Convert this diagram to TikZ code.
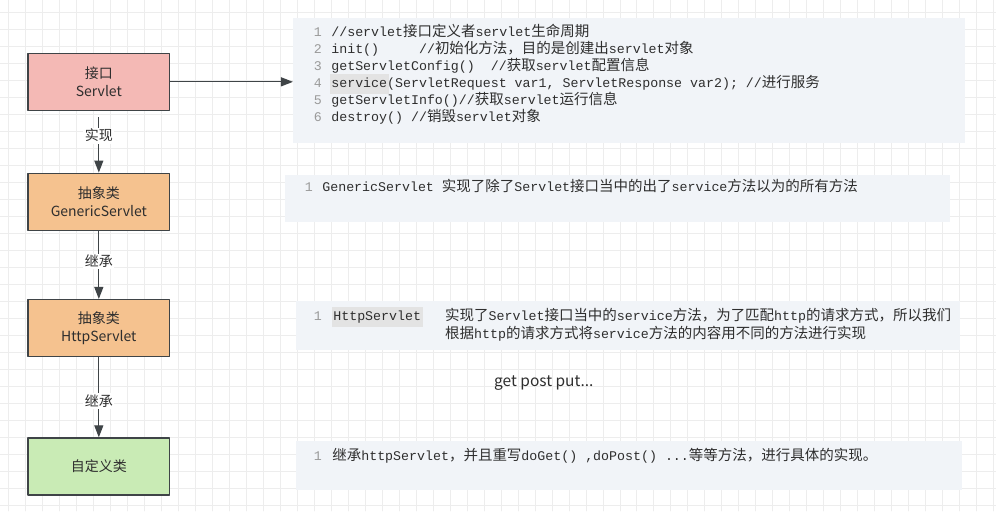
\documentclass[tikz,border=0pt]{standalone}
\usepackage{fontspec}
\setmainfont{Noto Sans CJK SC}
\setmonofont{Liberation Mono}
\newfontfamily\cjk{Noto Sans CJK SC}
\usetikzlibrary{arrows.meta,positioning}
\definecolor{srvPink}{HTML}{F4B9B5}
\definecolor{srvOrange}{HTML}{F5C28F}
\definecolor{srvGreen}{HTML}{C9EBB5}
\definecolor{srvLine}{HTML}{3F4447}
\definecolor{srvGrid}{HTML}{EDEDED}
\definecolor{srvPanel}{HTML}{F1F4F8}
\definecolor{srvInk}{HTML}{2E2E2E}
\definecolor{srvNum}{HTML}{9A9A9A}
\definecolor{srvMark}{HTML}{E3E3E3}
\newcommand{\zh}[1]{{\cjk\fontsize{14.5}{17}\selectfont #1}}
\newcommand{\codemark}[1]{\hspace{-1.5pt}{\setlength{\fboxsep}{1.5pt}\colorbox{srvMark}{\strut #1}}\hspace{-1.5pt}}

\begin{document}
\begin{tikzpicture}[x=1pt,y=-1pt,>=Latex,line cap=round,line join=round]
\path[fill=white] (0,0) rectangle (996,511);
\foreach \gx in {8,25,...,996} \draw[srvGrid,line width=0.8pt] (\gx,0) -- (\gx,511);
\foreach \gy in {12,29,...,511} \draw[srvGrid,line width=0.8pt] (0,\gy) -- (996,\gy);
\tikzset{cls/.style={draw=srvLine,line width=1.4pt,minimum width=142pt,minimum height=57pt,align=center,text=srvInk,font=\fontsize{14}{18}\selectfont},panel/.style={fill=srvPanel,inner sep=0pt},link/.style={draw=srvLine,line width=1.2pt,-{Triangle[length=12pt,width=9pt]}},lbl/.style={fill=white,inner sep=1.5pt,text=srvInk,font=\fontsize{14}{16}\selectfont},code/.style={anchor=base west,inner sep=0pt,text=srvInk,font=\ttfamily\fontsize{13.3}{17}\selectfont},num/.style={anchor=base east,inner sep=0pt,text=srvNum,font=\ttfamily\fontsize{13.3}{17}\selectfont}}
% code panels
\node[panel,minimum width=672pt,minimum height=125pt] (panelA) at (629,80.5) {};
\node[panel,minimum width=665pt,minimum height=47pt] (panelB) at (617.5,198.5) {};
\node[panel,minimum width=664pt,minimum height=49pt] (panelC) at (628,325.5) {};
\node[panel,minimum width=666pt,minimum height=49pt] (panelD) at (629,465.5) {};
% class boxes
\node[cls,fill=srvPink] (servlet) at (98.5,81.5) {接口\\Servlet};
\node[cls,fill=srvOrange] (generic) at (98.5,201.5) {抽象类\\GenericServlet};
\node[cls,fill=srvOrange] (http) at (98.5,328) {抽象类\\HttpServlet};
\node[cls,fill=srvGreen] (custom) at (98.5,466.5) {自定义类};
\draw[link] (servlet.east) -- (servlet.east -| panelA.west);
\draw[link,line cap=butt,dash pattern=on 100pt off 6pt,dash phase=100pt] (servlet) -- node[lbl,pos=0.4] {实现} (generic);
\draw[link] (generic) -- node[lbl,pos=0.45] {继承} (http);
\draw[link] (http) -- node[lbl,pos=0.55] {继承} (custom);
% code lines
\foreach \n [evaluate=\n as \ny using 19+17*\n] in {1,...,6} \node[num] (numA\n) at (322,\ny) {\n};
\node[code] (codeA1) at (331,36) {//servlet\zh{接口定义者}servlet\zh{生命周期}};
\node[code] (codeA2) at (331,53) {init()\ \ \ \ \ //\zh{初始化方法，目的是创建出}servlet\zh{对象}};
\node[code] (codeA3) at (331,70) {getServletConfig()\ \ //\zh{获取}servlet\zh{配置信息}};
\node[code] (codeA4) at (331,87) {\codemark{service}(ServletRequest var1, ServletResponse var2); //\zh{进行服务}};
\node[code] (codeA5) at (331,104) {getServletInfo()//\zh{获取}servlet\zh{运行信息}};
\node[code] (codeA6) at (331,121) {destroy() //\zh{销毁}servlet\zh{对象}};
\node[num] (numB) at (313,191) {1};
\node[code] (codeB) at (322,191) {GenericServlet \zh{实现了除了}Servlet\zh{接口当中的出了}service\zh{方法以为的所有方法}};
\node[num] (numC) at (322,320) {1};
\node[code] (codeC0) at (333,320) {\codemark{HttpServlet}};
\node[code] (codeC1) at (445,320) {\zh{实现了}Servlet\zh{接口当中的}service\zh{方法，为了匹配}http\zh{的请求方式，所以我们}};
\node[code] (codeC2) at (445,338) {\zh{根据}http\zh{的请求方式将}service\zh{方法的内容用不同的方法进行实现}};
\node[anchor=base west,inner sep=0pt,text=srvInk,font=\fontsize{15.5}{18}\selectfont] (note) at (494,386) {get post put...};
\node[num] (numD) at (322,460) {1};
\node[code] (codeD) at (332,460) {\zh{继承}httpServlet\zh{，并且重写}doGet() ,doPost() ...\zh{等等方法，进行具体的实现。}};
\end{tikzpicture}
\end{document}
